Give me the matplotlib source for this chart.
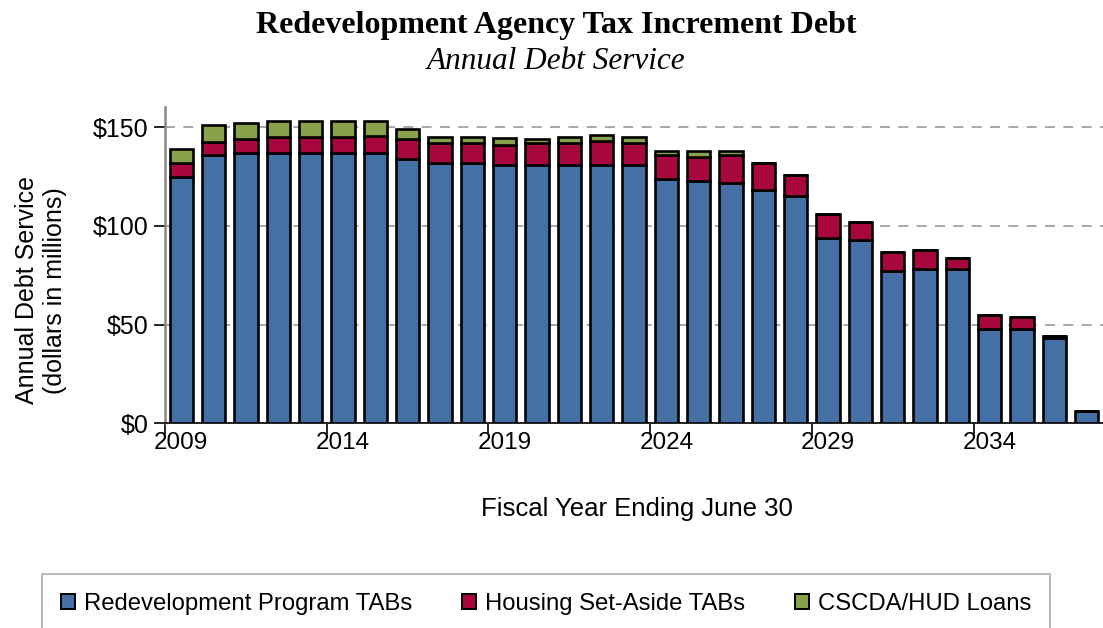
import numpy as np
import matplotlib.pyplot as plt
from matplotlib.patches import Patch

# fiscal years 2009-2037, values in $ millions
years = list(range(2009, 2038))
redev_tabs = [125, 136, 137, 137, 137, 137, 137, 134, 132, 132,
              131, 131, 131, 131, 131, 124, 123, 122, 118, 115,
              94, 93, 77, 78, 78, 48, 48, 43, 6]
housing_tabs = [7, 6.7, 7, 8, 8, 8, 8.5, 10, 10, 10,
                10, 11, 11, 12, 11, 12, 12, 14, 14, 11,
                12, 9, 10, 10, 6, 7, 6, 1, 0]
cscda_hud = [7, 8.3, 8, 8, 8, 8, 7.5, 5, 3, 3,
             3.4, 2, 3, 3, 3, 2, 3, 2, 0, 0,
             0, 0, 0, 0, 0, 0, 0, 0, 0]
labeled_years = [2009, 2014, 2019, 2024, 2029, 2034]

c_blue = "#4570A6"
c_red = "#A8063F"
c_green = "#87A24B"

plt.rcParams['font.family'] = ['Liberation Sans', 'DejaVu Sans']

fig = plt.figure(figsize=(11.03, 6.28), dpi=100)
ax = fig.add_axes([0.1496, 0.326, 0.8504, 0.5036])

x = np.arange(len(years))
r = np.array(redev_tabs)
h = np.array(housing_tabs)
g = np.array(cscda_hud)
w = 0.72
kw = dict(width=w, edgecolor="black", linewidth=1.9, zorder=3)
ax.bar(x, r, color=c_blue, **kw)
ax.bar(x, h, bottom=r, color=c_red, **kw)
ax.bar(x, g, bottom=r + h, color=c_green, **kw)

ax.set_xlim(-0.5, len(years) - 0.5)
ax.set_ylim(0, 160.3)
ax.set_yticks([0, 50, 100, 150])
ax.set_yticklabels(["$0", "$50", "$100", "$150"], fontsize=18)
ax.yaxis.grid(True, linestyle=(0, (6, 5)), color="#999999", linewidth=1.2, zorder=0)

# ticks between categories, labels on bars
idx = [years.index(yr) for yr in labeled_years]
ax.set_xticks([i - 0.5 for i in idx])
ax.set_xticklabels([])
ax.set_xticks(idx, minor=True)
ax.set_xticklabels([str(yr) for yr in labeled_years], minor=True, fontsize=17.5)
ax.tick_params(axis="x", which="major", length=8, width=1.2, direction="out")
ax.tick_params(axis="x", which="minor", length=0, pad=6)
ax.tick_params(axis="y", length=8, width=1.2, direction="out", pad=4)

for s in ["top", "right"]:
    ax.spines[s].set_visible(False)
ax.spines["left"].set_color("#888888")
ax.spines["left"].set_linewidth(1.8)
ax.spines["bottom"].set_color("#222222")
ax.spines["bottom"].set_linewidth(1.4)

ax.set_ylabel("Annual Debt Service\n(dollars in millions)", fontsize=18, linespacing=1.22)
ax.yaxis.set_label_coords(-0.1045, 0.421)
ax.set_xlabel("Fiscal Year Ending June 30", fontsize=18.5)
ax.xaxis.set_label_coords(0.5035, -0.2923)
ax.xaxis.label.set_va("baseline")

fig.text(0.504, 0.947, "Redevelopment Agency Tax Increment Debt", ha="center", va="baseline",
         fontsize=23, fontweight="bold", family="Liberation Serif")
fig.text(0.504, 0.890, "Annual Debt Service", ha="center", va="baseline",
         fontsize=22.5, style="italic", family="Liberation Serif")

handles = [Patch(facecolor=c_blue, edgecolor="black", linewidth=1.4, label="Redevelopment Program TABs"),
           Patch(facecolor=c_red, edgecolor="black", linewidth=1.4, label="Housing Set-Aside TABs"),
           Patch(facecolor=c_green, edgecolor="black", linewidth=1.4, label="CSCDA/HUD Loans")]
leg = fig.legend(handles=handles, loc="lower center", bbox_to_anchor=(0.495, -0.01), ncol=3,
                 fontsize=17.2, frameon=True, fancybox=False, handlelength=0.6, handleheight=0.6,
                 handletextpad=0.35, columnspacing=2.1, borderpad=0.8, borderaxespad=0)
leg.get_frame().set_edgecolor("#999999")
leg.get_frame().set_linewidth(1.2)

fig.savefig("out.png", dpi=100)
